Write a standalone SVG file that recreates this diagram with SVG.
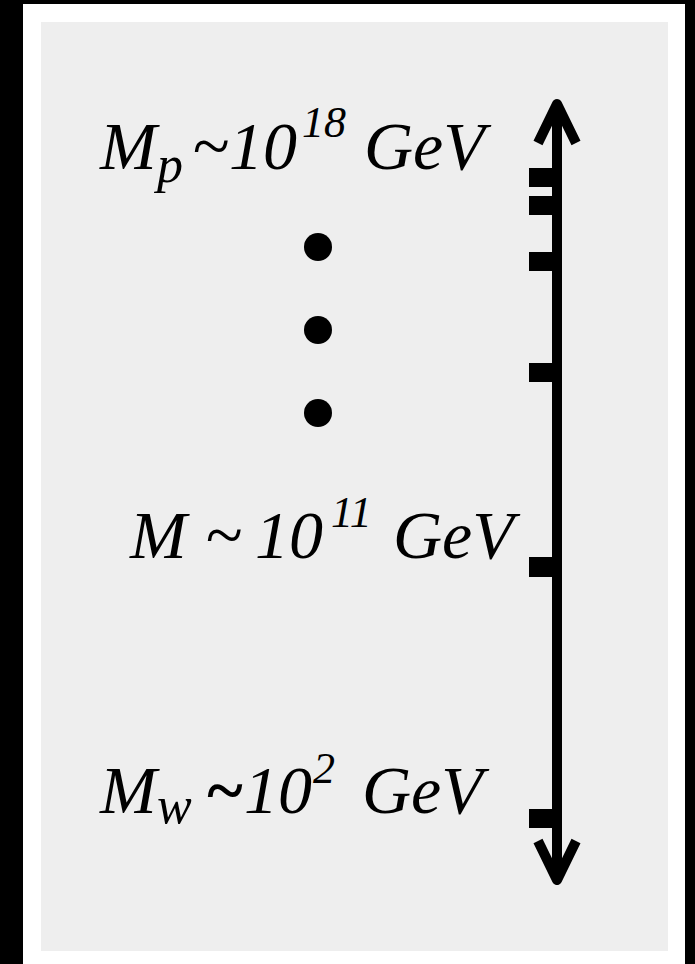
<svg xmlns="http://www.w3.org/2000/svg" width="695" height="964" viewBox="0 0 695 964">
<style>
.lbl{font-family:"Liberation Serif","Times New Roman",serif;font-style:italic;fill:#000;}
.tick{fill:#000;}
.ax{stroke:#000;stroke-width:10;fill:none;}
</style>
<rect x="0" y="0" width="695" height="964" fill="#000"/>
<rect x="23" y="4" width="662" height="960" fill="#fff"/>
<rect x="41" y="22" width="627" height="929" fill="#eeeeee"/>
<g id="connectors">
<line class="ax" x1="557" y1="104" x2="557" y2="880"/>
<polyline class="ax" points="538,143 557,104 576,143" stroke-linejoin="round"/>
<polyline class="ax" points="538,841 557,880 576,841" stroke-linejoin="round"/>
<rect class="tick" x="529" y="168" width="25" height="19"/>
<rect class="tick" x="529" y="196" width="25" height="19"/>
<rect class="tick" x="529" y="252" width="25" height="19"/>
<rect class="tick" x="529" y="363" width="25" height="19"/>
<rect class="tick" x="529" y="557" width="25" height="20"/>
<rect class="tick" x="529" y="809" width="25" height="19"/>
</g>
<g id="mp">
<text class="lbl" font-size="68" y="169"><tspan x="100">M</tspan><tspan x="157" y="182" font-size="52">p</tspan><tspan x="192" y="169">~</tspan><tspan x="229">10</tspan><tspan x="302" y="137" font-size="44">18</tspan><tspan x="364" y="169">GeV</tspan></text>
</g>
<g id="dots">
<circle cx="318" cy="247" r="14" fill="#000"/>
<circle cx="318" cy="330" r="14" fill="#000"/>
<circle cx="318" cy="413" r="14" fill="#000"/>
</g>
<g id="m">
<text class="lbl" font-size="68" y="558"><tspan x="130">M</tspan><tspan x="205">~</tspan><tspan x="255">10</tspan><tspan x="331" y="527" font-size="44">11</tspan><tspan x="393" y="558">GeV</tspan></text>
</g>
<g id="mw">
<text class="lbl" font-size="68" y="813"><tspan x="100">M</tspan><tspan x="157" y="823" font-size="52">w</tspan><tspan x="205" y="813" font-weight="bold">~</tspan><tspan x="244">10</tspan><tspan x="313" y="783" font-size="44">2</tspan><tspan x="362" y="813">GeV</tspan></text>
</g>
</svg>
